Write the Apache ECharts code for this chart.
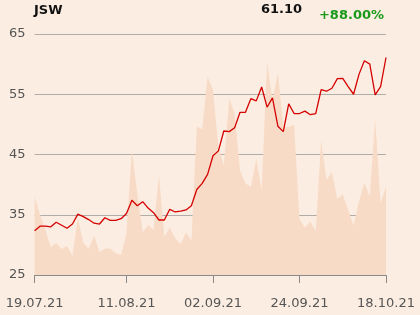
<!DOCTYPE html>
<html><head><meta charset="utf-8">
<script src="https://cdn.jsdelivr.net/npm/echarts@6/dist/echarts.min.js"></script>
<style>html,body{margin:0;padding:0;background:#fbede2;}#c{width:420px;height:315px;}</style>
</head><body><div id="c"></div>
<script>
const dates = ["19.07.21","20.07.21","21.07.21","22.07.21","23.07.21","26.07.21","27.07.21","28.07.21","29.07.21","30.07.21",
"02.08.21","03.08.21","04.08.21","05.08.21","06.08.21","09.08.21","10.08.21","11.08.21","12.08.21","13.08.21",
"16.08.21","17.08.21","18.08.21","19.08.21","20.08.21","23.08.21","24.08.21","25.08.21","26.08.21","27.08.21",
"30.08.21","31.08.21","01.09.21","02.09.21","03.09.21","06.09.21","07.09.21","08.09.21","09.09.21","10.09.21",
"13.09.21","14.09.21","15.09.21","16.09.21","17.09.21","20.09.21","21.09.21","22.09.21","23.09.21","24.09.21",
"27.09.21","28.09.21","29.09.21","30.09.21","01.10.21","04.10.21","05.10.21","06.10.21","07.10.21","08.10.21",
"11.10.21","12.10.21","13.10.21","14.10.21","15.10.21","18.10.21"];
const price = [32.35,33.1,33.1,33.0,33.75,33.25,32.75,33.46,35.1,34.7,
34.2,33.6,33.46,34.5,34.07,34.07,34.35,35.2,37.4,36.5,
37.17,36.1,35.35,34.13,34.13,35.9,35.46,35.6,35.8,36.5,
39.2,40.2,41.7,44.8,45.6,48.9,48.8,49.45,52.0,52.0,
54.26,53.9,56.2,52.85,54.4,49.7,48.8,53.4,51.8,51.8,
52.2,51.6,51.8,55.75,55.5,56.0,57.6,57.65,56.25,55.0,
58.3,60.57,60.0,54.9,56.25,61.1];
const volume = [38.0,35.0,32.5,29.6,30.3,29.3,29.8,28.2,34.4,30.4,
29.3,31.5,28.8,29.4,29.4,28.6,28.3,32.0,45.8,38.5,
32.1,33.3,32.5,41.5,31.4,32.85,31.1,30.1,32.1,30.7,
49.7,49.2,57.9,55.7,46.3,43.25,54.3,51.8,42.4,40.2,
39.65,44.2,39.1,60.4,54.0,58.6,49.6,49.6,49.9,34.25,
32.9,33.85,32.35,47.3,40.8,42.15,37.6,38.4,35.8,33.2,
37.2,40.3,38.0,50.9,36.9,39.65];
const yTicks = [25,35,45,55,65];
const labelIdx = [0,17,33,49,65];
const title = "JSW", lastPrice = "61.10", change = "+88.00%";

const chart = echarts.init(document.getElementById('c'), null, {renderer:'canvas'});
const F = 'DejaVu Sans';
chart.setOption({
  backgroundColor:'#fbede2',
  animation:false,
  grid:{left:34.6,right:34,top:34,bottom:40},
  graphic:[
    {type:'text',left:34,top:4,style:{text:title,font:'bold 13px "DejaVu Sans"',fill:'#111'}},
    {type:'text',right:118,top:3,style:{text:lastPrice,font:'bold 13px "DejaVu Sans"',fill:'#111'}},
    {type:'text',right:36,top:9,style:{text:change,font:'bold 13px "DejaVu Sans"',fill:'#1a9a1a'}}
  ],
  xAxis:{type:'category',data:dates,boundaryGap:false,
    axisLine:{lineStyle:{color:'#8a8a8a',width:1}},
    axisTick:{length:8,interval:(i)=>labelIdx.includes(i),lineStyle:{color:'#8a8a8a'}},
    axisLabel:{interval:(i)=>labelIdx.includes(i),margin:22,fontFamily:F,fontSize:13,color:'#555'},
    splitLine:{show:false}},
  yAxis:{type:'value',min:yTicks[0],max:yTicks[yTicks.length-1],interval:10,
    axisLine:{show:false},axisTick:{show:false},
    axisLabel:{fontFamily:F,fontSize:13,color:'#555',margin:9},
    splitLine:{lineStyle:{color:'#b0aca8',width:1}}},
  series:[
    {type:'line',data:volume,symbol:'none',lineStyle:{width:0},
     areaStyle:{color:'#f8dbc6',opacity:1},z:1},
    {type:'line',data:price,symbol:'none',lineStyle:{color:'#d40000',width:1.3},z:3}
  ]
});
</script></body></html>
